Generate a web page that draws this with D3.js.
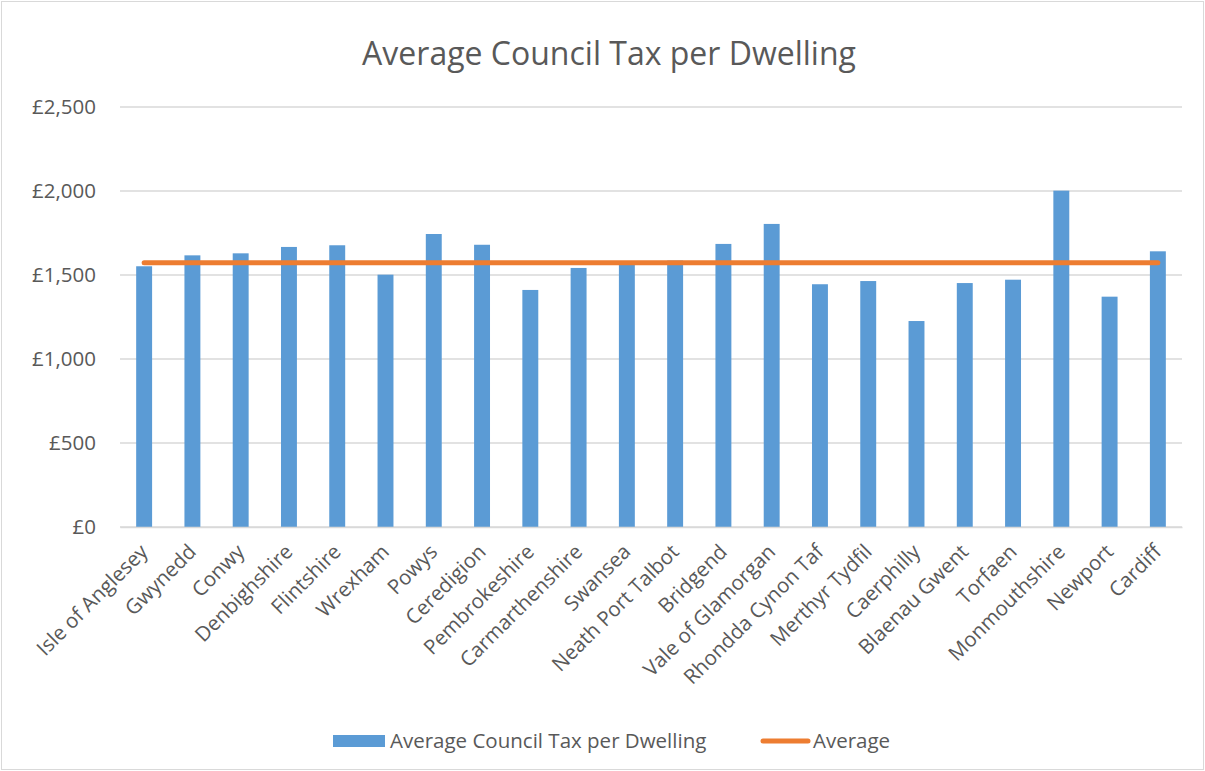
<!DOCTYPE html>
<html>
<head>
<meta charset="utf-8">
<script src="https://cdn.jsdelivr.net/npm/d3@7"></script>
<style>
  body { margin: 0; background: #fff; overflow: hidden; }
  svg { display: block; }
  text { font-family: "Open Sans", "Liberation Sans", sans-serif; fill: #595959; }
</style>
</head>
<body>
<svg class="chart"></svg>
<script>
const svgWidth = 1205;
const svgHeight = 771;

// data
const councils = ["Isle of Anglesey", "Gwynedd", "Conwy", "Denbighshire", "Flintshire", "Wrexham",
  "Powys", "Ceredigion", "Pembrokeshire", "Carmarthenshire", "Swansea", "Neath Port Talbot",
  "Bridgend", "Vale of Glamorgan", "Rhondda Cynon Taf", "Merthyr Tydfil", "Caerphilly",
  "Blaenau Gwent", "Torfaen", "Monmouthshire", "Newport", "Cardiff"];
const taxPerDwelling = [1552, 1617, 1629, 1667, 1677, 1502, 1744, 1680, 1411, 1542, 1568, 1586,
  1685, 1804, 1445, 1464, 1226, 1452, 1472, 2002, 1371, 1641];
const averageTax = 1573;
const yTicks = [0, 500, 1000, 1500, 2000, 2500];

var margin = { top: 107, right: 23, bottom: 244, left: 120 };
var innerWidth = svgWidth - margin.left - margin.right;
var innerHeight = svgHeight - margin.top - margin.bottom;

const svg = d3.select('.chart')
  .attr('width', svgWidth)
  .attr('height', svgHeight);

// chart border
svg.append('rect')
  .attr('x', 1.5).attr('y', 1.5)
  .attr('width', svgWidth - 3).attr('height', svgHeight - 3)
  .attr('fill', 'none')
  .attr('stroke', '#d9d9d9');

svg.append('text')
  .text('Average Council Tax per Dwelling')
  .attr('x', 609).attr('y', 65)
  .attr('text-anchor', 'middle')
  .style('font-size', '32px');

const g = svg.append('g')
  .attr('transform', `translate(${margin.left},${margin.top})`);

var x = d3.scaleBand()
  .domain(councils)
  .range([0, innerWidth])
  .paddingInner(0.67)
  .paddingOuter(0.335);

var y = d3.scaleLinear()
  .domain([0, 2500])
  .range([innerHeight, 0]);

// gridlines
g.append('g')
  .selectAll('line')
  .data(yTicks)
  .join('line')
    .attr('x1', 0).attr('x2', innerWidth)
    .attr('y1', d => y(d)).attr('y2', d => y(d))
    .attr('stroke', '#d9d9d9')
    .attr('stroke-width', 1.3);

// y axis labels
const yAxis = g.append('g')
  .call(d3.axisLeft(y).tickValues(yTicks).tickSize(0).tickPadding(24)
    .tickFormat(d => '£' + d3.format(',')(d)));
yAxis.select('.domain').remove();
yAxis.selectAll('text')
  .style('font-size', '20.5px')
  .attr('fill', '#595959');

// bars
g.selectAll('.bar')
  .data(taxPerDwelling)
  .join('rect')
    .attr('class', 'bar')
    .attr('x', (d, i) => x(councils[i]))
    .attr('width', x.bandwidth())
    .attr('y', d => y(d))
    .attr('height', d => innerHeight - y(d))
    .attr('fill', '#5b9bd5');

// x axis
const xAxis = g.append('g')
  .attr('transform', `translate(0,${innerHeight})`)
  .call(d3.axisBottom(x).tickSize(0).tickPadding(0));
xAxis.select('.domain').attr('stroke', '#d9d9d9').attr('stroke-width', 1.3);
xAxis.selectAll('text')
  .attr('fill', '#595959')
  .style('font-size', '20.5px')
  .attr('text-anchor', 'end')
  .attr('dy', null)
  .attr('transform', 'translate(5,26) rotate(-45)');

// average line
g.append('line')
  .attr('x1', x(councils[0]) + x.bandwidth() / 2)
  .attr('x2', x(councils[councils.length - 1]) + x.bandwidth() / 2)
  .attr('y1', y(averageTax)).attr('y2', y(averageTax))
  .attr('stroke', '#ed7d31')
  .attr('stroke-width', 5)
  .attr('stroke-linecap', 'round');

// legend
const legend = svg.append('g');
legend.append('rect')
  .attr('x', 333).attr('y', 735)
  .attr('width', 52).attr('height', 12)
  .attr('fill', '#5b9bd5');
legend.append('text')
  .text('Average Council Tax per Dwelling')
  .attr('x', 390).attr('y', 748)
  .style('font-size', '20.5px');
legend.append('line')
  .attr('x1', 763).attr('x2', 808)
  .attr('y1', 741).attr('y2', 741)
  .attr('stroke', '#ed7d31')
  .attr('stroke-width', 5)
  .attr('stroke-linecap', 'round');
legend.append('text')
  .text('Average')
  .attr('x', 813).attr('y', 748)
  .style('font-size', '20.5px');
</script>
</body>
</html>
